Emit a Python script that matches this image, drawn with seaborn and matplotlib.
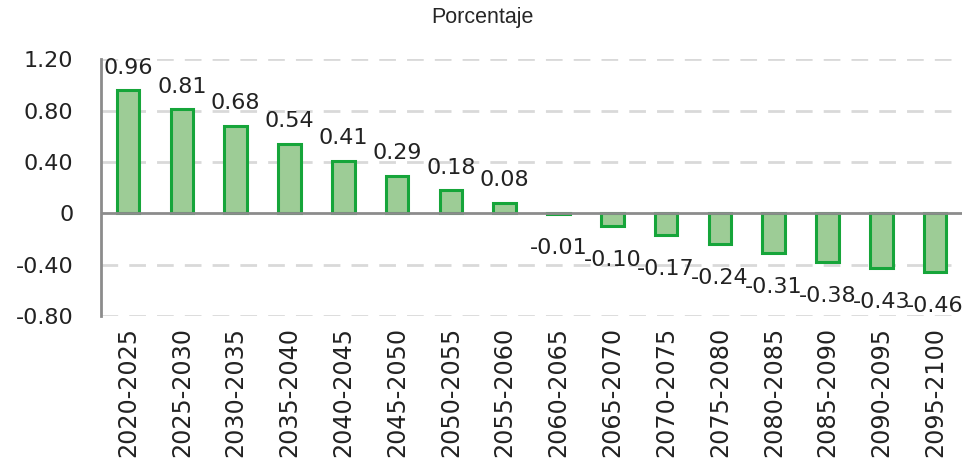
import matplotlib
matplotlib.use("Agg")
import matplotlib.pyplot as plt
import seaborn as sns
import pandas as pd

periods = ["2020-2025", "2025-2030", "2030-2035", "2035-2040", "2040-2045", "2045-2050",
           "2050-2055", "2055-2060", "2060-2065", "2065-2070", "2070-2075", "2075-2080",
           "2080-2085", "2085-2090", "2090-2095", "2095-2100"]
rates = [0.96, 0.81, 0.68, 0.54, 0.41, 0.29, 0.18, 0.08, -0.01, -0.10, -0.17, -0.24,
         -0.31, -0.38, -0.43, -0.46]
yticks = [-0.80, -0.40, 0, 0.40, 0.80, 1.20]
ytick_labels = ["-0.80", "-0.40", "0", "0.40", "0.80", "1.20"]

sns.set_style("white")
plt.rcParams['font.family'] = ['DejaVu Sans']

df = pd.DataFrame({'periodo': periods, 'tasa': rates})

fig = plt.figure(figsize=(9.64, 4.70), dpi=100)
ax = fig.add_axes([0.105, 0.328, 0.893, 0.546])

sns.barplot(data=df, x='periodo', y='tasa', color='#9dcc96', width=0.42,
            edgecolor='#16a53a', linewidth=2.2, saturation=1, ax=ax, zorder=3)

ax.set_ylim(-0.8, 1.2)
ax.set_xlim(-0.5, len(periods) - 0.5)
ax.set_yticks(yticks)
ax.set_yticklabels(ytick_labels, fontsize=16, color='#222222')
ax.set_xticks(range(len(periods)))
ax.set_xticklabels(periods, rotation=90, fontsize=17.2, color='#222222')
ax.tick_params(axis='y', length=0, pad=20)
ax.tick_params(axis='x', length=0, pad=8)
ax.set_xlabel('')
ax.set_ylabel('')

# dashed grid, solid zero line
for t in yticks:
    if t == 0:
        continue
    ax.axhline(t, color='#d9d9d9', linewidth=2, linestyle=(0, (6, 4)), zorder=1)
ax.axhline(0, color='#8c8c8c', linewidth=2, zorder=4)

for s in ['top', 'right', 'bottom']:
    ax.spines[s].set_visible(False)
ax.spines['left'].set_color('#8c8c8c')
ax.spines['left'].set_linewidth(2)

for i, v in enumerate(rates):
    if v >= 0:
        ax.annotate(f"{v:.2f}", (i, v), xytext=(0, 9), textcoords='offset points',
                    ha='center', va='bottom', fontsize=16, color='#222222')
    else:
        ax.annotate(f"{v:.2f}", (i, v), xytext=(0, -17), textcoords='offset points',
                    ha='center', va='top', fontsize=16, color='#222222')

fig.text(0.5, 1 - 18 / 470, 'Porcentaje', ha='center', va='center',
         fontsize=15.5, family=['Liberation Sans', 'DejaVu Sans'])

plt.savefig('out.png', dpi=100)
